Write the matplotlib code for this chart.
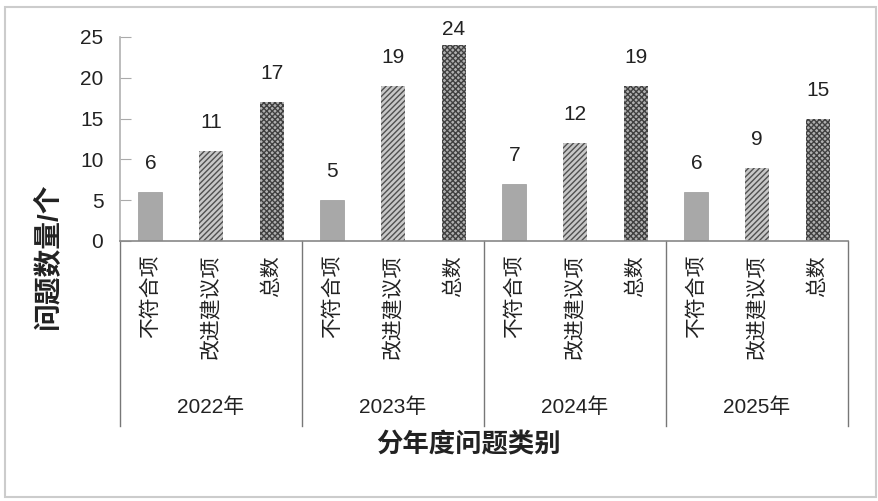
import matplotlib
matplotlib.use("Agg")
import matplotlib.pyplot as plt
import numpy as np
from matplotlib.patches import Rectangle
from matplotlib.lines import Line2D

years = ["2022年", "2023年", "2024年", "2025年"]
categories = ["不符合项", "改进建议项", "总数"]
non_conform = [6, 5, 7, 6]
suggestions = [11, 19, 12, 9]
totals = [17, 24, 19, 15]
y_ticks = [0, 5, 10, 15, 20, 25]
y_label = "问题数量/个"
x_label = "分年度问题类别"

plt.rcParams['font.family'] = ['Liberation Sans', 'Noto Sans CJK SC']
plt.rcParams['hatch.linewidth'] = 1.0

fig = plt.figure(figsize=(8.79, 5.01), dpi=100)
W, H = 879, 501
ax = fig.add_axes([120 / W, (H - 241) / H, (848 - 120) / W, (241 - 37) / H])

n_cat = len(categories)
series = [non_conform, suggestions, totals]
styles = [
    dict(color='#a8a8a8', hatch=None, edge='#999999'),
    dict(color='#c8c8c8', hatch='//////', edge='#505050'),
    dict(color='#b0b0b0', hatch='xxxxxx', edge='#404040'),
]
ax.set_xlim(-0.5, len(years) * n_cat - 0.5)
ax.set_ylim(0, 25)

# top limit for labels (pixels from top of figure) so they stay inside the chart area
label_top_limit = 29.5
positions = []
labels = []
for g, yr in enumerate(years):
    for c in range(n_cat):
        x = g * n_cat + c
        v = series[c][g]
        st = styles[c]
        ax.bar(x, v, width=0.4, color=st['color'], hatch=st['hatch'],
               edgecolor=st['edge'], linewidth=0 if st['hatch'] else 0.5, zorder=2)
        top_px = H - ax.transData.transform((x, v))[1]
        off = min(28.5, top_px - label_top_limit)
        ax.annotate(str(v), (x, v), xytext=(0, off), textcoords='offset pixels',
                    ha='center', va='center', fontsize=15, color='#222222')
        positions.append(x)
        labels.append(categories[c])

ax.set_yticks(y_ticks)
ax.tick_params(axis='y', direction='in', length=8, color='#aaaaaa', pad=12,
               labelsize=15, labelcolor='#222222')
ax.set_xticks(positions)
ax.set_xticklabels(labels, rotation=90, va='top', ha='center', fontsize=15,
                   color='#222222')
ax.tick_params(axis='x', length=0, pad=10)

for s in ['top', 'right']:
    ax.spines[s].set_visible(False)
ax.spines['left'].set_color('#b0b0b0')
ax.spines['bottom'].set_color('#888888')
ax.spines['left'].set_linewidth(1.2)
ax.spines['bottom'].set_linewidth(1.2)

trans = ax.get_xaxis_transform()
bottom_y = (241 - 426) / (241 - 37)
for g in range(len(years) + 1):
    xb = g * n_cat - 0.5
    ax.add_line(Line2D([xb, xb], [0, bottom_y], transform=trans, color='#777777',
                       linewidth=1.0, clip_on=False))
year_y = (241 - 407) / (241 - 37)
for g, yr in enumerate(years):
    ax.text(g * n_cat + 1, year_y, yr, transform=trans, ha='center', va='center',
            fontsize=15, color='#222222')

fig.text(468 / W, 1 - 445 / H, x_label, ha='center', va='center', fontsize=19,
         fontweight='bold', color='#222222')
fig.text(48 / W, 1 - 256 / H, y_label, ha='center', va='center', fontsize=20,
         fontweight='bold', rotation=90, color='#222222')

fig.patches.append(Rectangle((5 / W, 1 - 497 / H), (876 - 5) / W, (497 - 7) / H,
                             transform=fig.transFigure, fill=False,
                             edgecolor='#cccccc', linewidth=1.5))

fig.savefig("out.png", dpi=100)
